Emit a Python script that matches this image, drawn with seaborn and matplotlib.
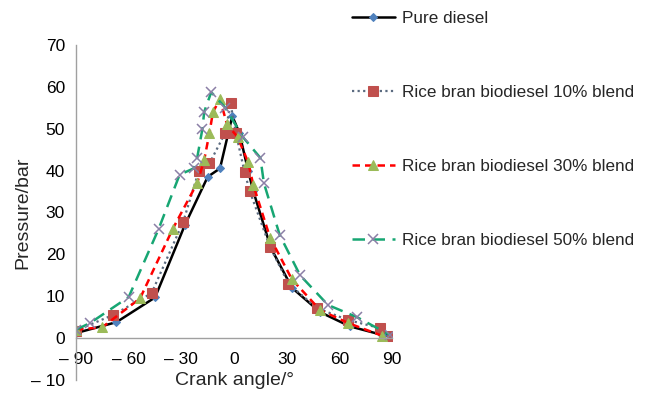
import matplotlib
matplotlib.use("Agg")
import matplotlib.pyplot as plt
import seaborn as sns

# crank angle / pressure readings
diesel_x = [-90, -67, -45, -28, -15, -8, -1, 3, 8, 11, 21, 33, 49, 66, 84, 90]
diesel_y = [1.2, 3.8, 9.7, 27, 38.5, 40.5, 53, 49, 40, 35, 21.5, 12, 6.2, 2.8, 0.8, 0.5]

b10_x = [-90, -69, -47, -29, -20, -14, -5, -2, 1, 6, 9, 20.5, 31, 47, 65, 83, 90]
b10_y = [1.8, 5.5, 10.7, 27.7, 40, 41.7, 49, 56, 49, 39.6, 35, 21.7, 13, 7.2, 4.3, 2.4, 0.6]

b30_x = [-90, -75, -53.5, -35, -21, -17, -14, -12, -8, -4, 2, 8, 11, 20.5, 33, 49, 65, 84]
b30_y = [2, 2.6, 9.5, 26, 37, 42.5, 49, 54, 57, 51, 48, 42, 36.5, 24, 14, 6.7, 3.6, 0.6]

b50_x = [-90, -82, -60, -43, -31, -23, -21, -18, -17, -13, -5, 5, 15, 17, 26, 37.6, 53.5, 70, 89]
b50_y = [2, 3.6, 9.8, 26, 39, 40.5, 43, 50, 54, 58.7, 55, 48, 43, 37, 24.6, 15, 7.9, 5, 0.7]

labels = ["Pure diesel", "Rice bran biodiesel 10% blend",
          "Rice bran biodiesel 30% blend", "Rice bran biodiesel 50% blend"]
x_ticks = [-90, -60, -30, 0, 30, 60, 90]
y_ticks = [-10, 0, 10, 20, 30, 40, 50, 60, 70]

sns.set_style("white")
plt.rcParams["font.family"] = ["Liberation Sans", "DejaVu Sans"]
plt.rcParams["xtick.labelsize"] = 12.5
plt.rcParams["ytick.labelsize"] = 12.5

fig = plt.figure(figsize=(6.47, 4.04), dpi=100)
ax = fig.add_axes([0.1175, 0.0594, 0.4885, 0.8297])

styles = [
    dict(color="black", linestyle="-", linewidth=1.8, marker="D", markersize=4.5,
         markerfacecolor="#4F81BD", markeredgecolor="#4F81BD"),
    dict(color="#5B6B80", linestyle=(0, (1, 1.5)), linewidth=1.6, marker="s", markersize=7,
         markerfacecolor="#C0504D", markeredgecolor="#C0504D"),
    dict(color="#FF0000", linestyle=(0, (3, 2)), linewidth=1.8, marker="^", markersize=7.5,
         markerfacecolor="#9BBB59", markeredgecolor="#9BBB59"),
    dict(color="#17A673", linestyle=(0, (5, 3)), linewidth=1.8, marker="x", markersize=7.5,
         markeredgewidth=1.1, markeredgecolor="#8B7FA6"),
]
series = [(diesel_x, diesel_y), (b10_x, b10_y), (b30_x, b30_y), (b50_x, b50_y)]

for (xs, ys), lab, st in zip(series, labels, styles):
    sns.lineplot(x=xs, y=ys, ax=ax, sort=False, estimator=None, label=lab, **st)

# x axis line sits at pressure 0
ax.spines["bottom"].set_position(("data", 0))
ax.spines["top"].set_visible(False)
ax.spines["right"].set_visible(False)
for s in ("left", "bottom"):
    ax.spines[s].set_color("#A0A0A0")
    ax.spines[s].set_linewidth(1.0)

ax.set_xlim(-90, 90)
ax.set_ylim(-10, 70)
ax.set_xticks(x_ticks)
ax.set_xticklabels([("\u2013 %d" % -v) if v < 0 else str(v) for v in x_ticks], fontsize=12.5)
ax.set_yticks(y_ticks)
ax.set_yticklabels([("\u2013 %d" % -v) if v < 0 else str(v) for v in y_ticks], fontsize=12.5)
ax.tick_params(axis="both", direction="out", length=5, width=1.0, color="#A0A0A0",
               labelcolor="black", pad=3)
ax.tick_params(axis="x", pad=5)

ax.set_xlabel("Crank angle/\u00b0", fontsize=14)
ax.xaxis.set_label_coords(0.5, 0.024)
ax.set_ylabel("Pressure/bar", fontsize=14)
ax.yaxis.set_label_coords(-0.14, 0.5)

handles, labs = ax.get_legend_handles_labels()
ax.get_legend().remove()
fig.legend(handles, labs, loc="upper left", bbox_to_anchor=(0.544, 0.972), frameon=False,
           fontsize=12.3, labelspacing=3.45, handlelength=2.5, handletextpad=0.4,
           borderpad=0, borderaxespad=0)

fig.savefig("out.png", dpi=100)
